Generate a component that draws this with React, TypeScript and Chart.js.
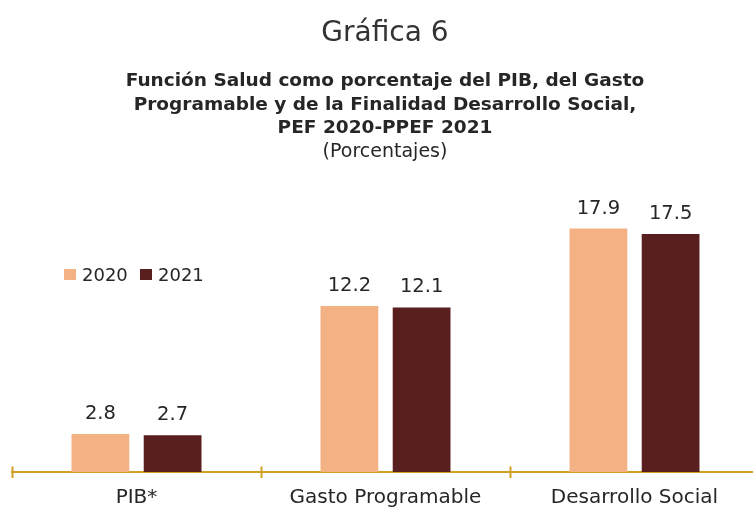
import React, { useEffect, useRef } from "react";
import { Chart, registerables } from "chart.js";

Chart.register(...registerables);

const categories = ["PIB*", "Gasto Programable", "Desarrollo Social"];
const seriesLabels = ["2020", "2021"];
const values2020 = [2.8, 12.2, 17.9];
const values2021 = [2.7, 12.1, 17.5];
const seriesColors = ["#F4B183", "#581F1E"];
const titleMain = "Gráfica 6";
const titleLines = [
  "Función Salud como porcentaje del PIB, del Gasto",
  "Programable y de la Finalidad Desarrollo Social,",
  "PEF 2020-PPEF 2021",
];
const unitsLabel = "(Porcentajes)";

const FONT = '"DejaVu Sans", sans-serif';
const TEXT = "#262626";
const AXIS = "#D1A024";

const headerPlugin = {
  id: "header",
  afterDraw(chart: any) {
    const ctx = chart.ctx;
    const cx = chart.width / 2;
    ctx.save();
    ctx.fillStyle = TEXT;
    ctx.textAlign = "center";
    ctx.textBaseline = "alphabetic";
    ctx.font = `28px ${FONT}`;
    ctx.fillStyle = "#333";
    ctx.fillText(titleMain, cx, 41);
    ctx.fillStyle = TEXT;
    ctx.font = `bold 18.5px ${FONT}`;
    const ys = [86, 110, 133];
    titleLines.forEach((t, i) => ctx.fillText(t, cx, ys[i]));
    ctx.font = `19px ${FONT}`;
    ctx.fillText(unitsLabel, cx, 157);
    ctx.restore();
  },
};

const legendPlugin = {
  id: "customLegend",
  afterDraw(chart: any) {
    const ctx = chart.ctx;
    ctx.save();
    ctx.font = `18px ${FONT}`;
    ctx.textBaseline = "alphabetic";
    ctx.textAlign = "left";
    let x = 64;
    chart.data.datasets.forEach((ds: any) => {
      ctx.fillStyle = ds.backgroundColor;
      ctx.fillRect(x, 269, 12, 11);
      ctx.fillStyle = TEXT;
      ctx.fillText(ds.label, x + 18, 281);
      x += 76;
    });
    ctx.restore();
  },
};

const valueLabelPlugin = {
  id: "valueLabels",
  afterDatasetsDraw(chart: any) {
    const ctx = chart.ctx;
    ctx.save();
    ctx.font = `19.5px ${FONT}`;
    ctx.fillStyle = TEXT;
    ctx.textAlign = "center";
    ctx.textBaseline = "alphabetic";
    chart.data.datasets.forEach((ds: any, di: number) => {
      const meta = chart.getDatasetMeta(di);
      meta.data.forEach((bar: any, i: number) => {
        ctx.fillText(ds.data[i].toFixed(1), bar.x, bar.y - 15);
      });
    });
    ctx.restore();
  },
};

const axisTicksPlugin = {
  id: "axisTicks",
  afterDraw(chart: any) {
    const xs = chart.scales.x;
    const ctx = chart.ctx;
    const y = chart.chartArea.bottom;
    const n = chart.data.labels.length;
    const w = (xs.right - xs.left) / n;
    ctx.save();
    ctx.strokeStyle = AXIS;
    ctx.lineWidth = 2;
    for (let i = 0; i <= n; i++) {
      const x = Math.round(xs.left + i * w) + 0.5;
      ctx.beginPath();
      ctx.moveTo(x, y - 5.5);
      ctx.lineTo(x, y + 6);
      ctx.stroke();
    }
    ctx.restore();
  },
};

export default function App() {
  const ref = useRef<HTMLCanvasElement>(null);
  useEffect(() => {
    if (!ref.current) return;
    const chart = new Chart(ref.current, {
      type: "bar",
      data: {
        labels: categories,
        datasets: [
          {
            label: seriesLabels[0],
            data: values2020,
            backgroundColor: seriesColors[0],
            categoryPercentage: 0.58,
            barPercentage: 0.8,
          },
          {
            label: seriesLabels[1],
            data: values2021,
            backgroundColor: seriesColors[1],
            categoryPercentage: 0.58,
            barPercentage: 0.8,
          },
        ],
      },
      options: {
        responsive: false,
        animation: false,
        layout: { padding: { top: 200, left: 12, right: 11, bottom: 0 } },
        plugins: {
          legend: { display: false },
          title: { display: false },
          tooltip: { enabled: false },
        },
        scales: {
          x: {
            grid: { display: false, drawTicks: false },
            border: { display: true, color: AXIS, width: 2 },
            ticks: {
              padding: 14,
              color: TEXT,
              font: { family: FONT, size: 20 },
            },
            afterFit(scale: any) {
              scale.height = 39;
            },
          },
          y: {
            display: false,
            min: 0,
            max: 20,
          },
        },
      },
      plugins: [headerPlugin, legendPlugin, valueLabelPlugin, axisTicksPlugin],
    });
    return () => chart.destroy();
  }, []);

  return (
    <div
      style={{
        position: "fixed",
        left: 0,
        top: 0,
        width: 753,
        height: 511,
        overflow: "hidden",
        background: "#fff",
      }}
    >
      <canvas ref={ref} width={770} height={511} />
    </div>
  );
}
